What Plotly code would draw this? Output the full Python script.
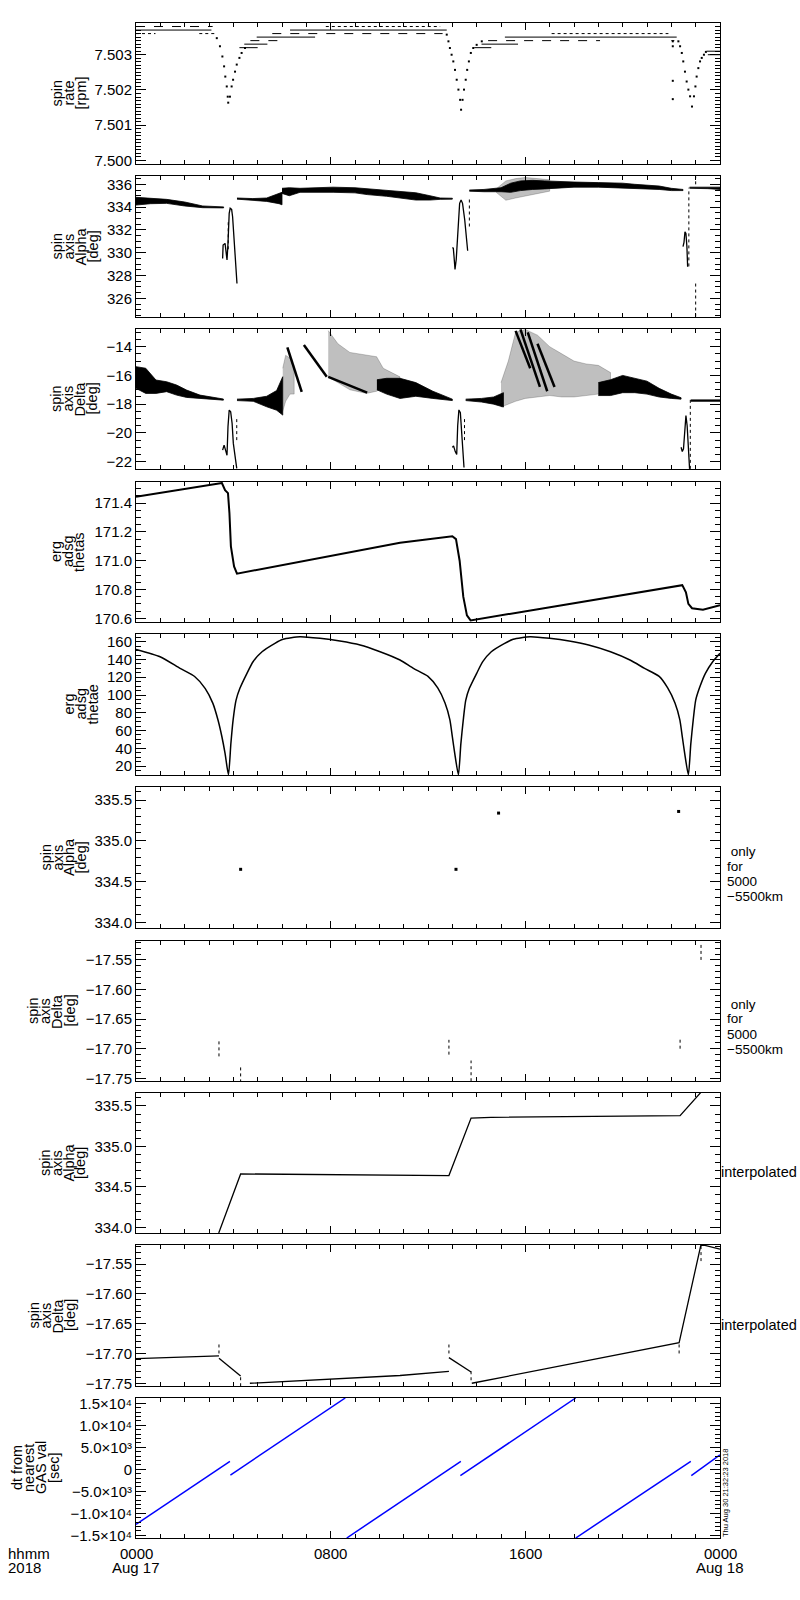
import plotly.graph_objects as go

# ===================== DATA (hours since 2018-08-17 00:00) =====================
# Panel 1: spin rate [rpm] - quantised plateau segments and dip points
rate_solid_lvl = [7.5037, 7.5032, 7.5033, 7.5035, 7.5037, 7.5032, 7.5033, 7.5035, 7.5031, 7.5030]
rate_solid_h0 = [0.0, 4.25, 4.45, 4.96, 6.33, 13.9, 14.2, 15.16, 23.45, 23.5]
rate_solid_h1 = [3.1, 5.0, 5.4, 7.36, 12.77, 14.6, 15.7, 22.22, 24.0, 24.0]
rate_dash_lvl = [7.5038, 7.5034, 7.5036, 7.5034]
rate_dash_h0 = [0.0, 4.7, 5.6, 14.47]
rate_dash_h1 = [3.15, 6.1, 12.6, 19.07]
rate_dot_lvl = [7.5036, 7.5036, 7.5038, 7.5036, 7.5034]
rate_dot_h0 = [0.0, 2.6, 7.8, 17.08, 22.0]
rate_dot_h1 = [0.8, 3.3, 12.5, 21.88, 22.25]
rate_dip_h = [3.32, 3.45, 3.55, 3.62, 3.67, 3.73, 3.77, 3.79, 3.86, 3.93, 3.99, 4.07, 4.14, 4.25, 4.34, 4.48,
              12.77, 12.84, 12.9, 12.97, 13.04, 13.11, 13.18, 13.25, 13.32, 13.36, 13.42, 13.48, 13.55, 13.61,
              13.68, 13.76, 13.86, 14.0, 14.21,
              22.29, 22.36, 22.43, 22.49, 22.56, 22.63, 22.7, 22.77, 22.85, 22.93, 22.99, 23.04, 23.11, 23.18,
              23.25, 23.34, 23.42, 22.06, 22.06, 22.06, 22.06]
rate_dip_v = [7.50347, 7.50324, 7.50295, 7.50267, 7.50238, 7.50210, 7.50181, 7.50164, 7.50181, 7.50210,
              7.50229, 7.50252, 7.50272, 7.50291, 7.50305, 7.50319,
              7.50357, 7.50338, 7.50319, 7.50300, 7.50281, 7.50257, 7.50229, 7.50201, 7.50172, 7.50144,
              7.50172, 7.50201, 7.50229, 7.50257, 7.50281, 7.50305, 7.50319, 7.50328, 7.50338,
              7.50338, 7.50324, 7.50305, 7.50281, 7.50252, 7.50224, 7.50201, 7.50182, 7.50153, 7.50182,
              7.50210, 7.50238, 7.50262, 7.50281, 7.50291, 7.50300, 7.50308,
              7.50338, 7.50324, 7.50226, 7.50174]
rate_ticks = [7.500, 7.501, 7.502, 7.503]

# Panel 2: spin axis Alpha [deg] - dense bands (upper/lower envelopes) and eclipse excursions
alpha_bands_h = [[0.0, 0.6, 1.26, 2.0, 2.74, 3.6],
                 [4.15, 4.8, 5.37, 5.88, 6.0],
                 [6.0, 6.3, 6.74, 7.5, 8.1, 9.0, 9.5, 10.3, 10.85, 11.5, 12.08, 12.5, 13.0],
                 [13.7, 14.3, 15.0, 15.4, 15.8, 16.3, 16.8, 17.3, 18.0, 19.0, 20.0, 20.5, 21.5, 22.0, 22.48],
                 [22.75, 23.5, 24.0]]
alpha_bands_hi = [[334.86, 334.75, 334.68, 334.45, 334.1, 334.02],
                  [334.8, 334.75, 334.8, 335.2, 335.3],
                  [335.65, 335.7, 335.65, 335.7, 335.75, 335.7, 335.6, 335.45, 335.35, 335.26, 335.0, 334.8, 334.78],
                  [335.5, 335.55, 335.7, 336.1, 336.3, 336.35, 336.3, 336.25, 336.2, 336.15, 336.1, 336.0, 335.85, 335.65, 335.55],
                  [335.75, 335.75, 335.75]]
alpha_bands_lo = [[334.18, 334.3, 334.33, 334.1, 333.95, 333.93],
                  [334.7, 334.62, 334.5, 334.3, 334.2],
                  [335.2, 335.0, 335.3, 335.3, 335.3, 335.25, 335.1, 334.95, 334.8, 334.62, 334.62, 334.68, 334.7],
                  [335.4, 335.35, 335.35, 335.3, 335.45, 335.55, 335.6, 335.7, 335.75, 335.75, 335.7, 335.65, 335.55, 335.45, 335.45],
                  [335.65, 335.62, 335.55]]
alpha_cloud_h = [14.8, 15.2, 15.6, 16.0, 16.5, 17.0]
alpha_cloud_hi = [335.6, 336.3, 336.5, 336.6, 336.5, 336.4]
alpha_cloud_lo = [335.3, 334.6, 334.8, 335.0, 335.2, 335.4]
alpha_dip_h = [[3.56, 3.58, 3.66, 3.74, 3.78, 3.83, 3.87, 3.93, 3.97, 4.03, 4.08, 4.15],
               [13.0, 13.04, 13.07, 13.11, 13.16, 13.3, 13.36, 13.42, 13.51, 13.57, 13.63],
               [22.48, 22.52, 22.56, 22.6, 22.64, 22.67]]
alpha_dip_v = [[329.5, 330.67, 330.82, 329.36, 330.8, 333.46, 333.9, 333.8, 333.16, 331.4, 329.36, 327.3],
               [330.44, 330.4, 329.65, 328.54, 329.4, 334.33, 334.62, 334.33, 332.87, 331.1, 330.17],
               [330.53, 330.9, 331.84, 331.7, 330.53, 328.77]]
alpha_vdot_h = [3.79, 13.7, 22.72, 23.0, 23.0]
alpha_vdot_v0 = [330.3, 332.3, 328.8, 324.4, 336.0]
alpha_vdot_v1 = [332.9, 334.9, 335.7, 327.3, 336.7]
alpha_ticks = [326, 328, 330, 332, 334, 336]

# Panel 3: spin axis Delta [deg]
delta_bands_h = [[0.0, 0.4, 0.82, 1.26, 1.67, 2.08, 2.63, 3.18, 3.59],
                 [4.15, 4.82, 5.37, 5.78, 6.03],
                 [9.9, 10.3, 10.85, 11.5, 12.2, 12.8, 13.0],
                 [13.55, 14.2, 14.7, 15.1],
                 [19.0, 19.5, 20.0, 20.5, 21.0, 21.5, 22.0, 22.4],
                 [22.8, 24.0]]
delta_bands_hi = [[-15.39, -15.5, -16.32, -16.44, -16.67, -17.02, -17.37, -17.53, -17.64],
                  [-17.65, -17.6, -17.45, -17.05, -16.09],
                  [-16.3, -16.2, -16.2, -16.5, -17.1, -17.55, -17.65],
                  [-17.65, -17.6, -17.5, -17.2],
                  [-16.5, -16.3, -16.0, -16.2, -16.4, -16.9, -17.3, -17.55],
                  [-17.7, -17.7]]
delta_bands_lo = [[-16.9, -17.25, -17.25, -17.13, -17.37, -17.53, -17.6, -17.67, -17.72],
                  [-17.75, -17.8, -18.18, -18.42, -18.76],
                  [-17.0, -17.3, -17.6, -17.45, -17.6, -17.7, -17.75],
                  [-17.75, -17.85, -18.0, -18.2],
                  [-17.4, -17.4, -17.2, -17.2, -17.3, -17.5, -17.6, -17.65],
                  [-17.8, -17.8]]
delta_cloud_h = [[6.03, 6.15, 6.33, 6.5],
                 [7.9, 8.3, 8.79, 9.47, 9.89, 10.16, 10.85],
                 [15.0, 15.3, 15.6, 16.0, 16.5, 17.0, 17.5, 18.0, 18.5, 19.0, 19.5]]
delta_cloud_hi = [[-15.5, -14.6, -14.8, -15.5],
                  [-12.88, -13.8, -14.4, -14.6, -14.7, -15.5, -16.1],
                  [-16.5, -15.0, -13.0, -12.8, -13.2, -14.0, -14.5, -15.0, -15.2, -15.3, -15.8]]
delta_cloud_lo = [[-18.5, -17.8, -17.3, -17.3],
                  [-16.1, -16.5, -17.0, -17.25, -17.1, -16.8, -17.3],
                  [-18.2, -18.0, -17.8, -17.6, -17.5, -17.4, -17.5, -17.5, -17.4, -17.3, -17.2]]
delta_streak_h = [[6.22, 6.81], [6.9, 7.84], [7.9, 9.5], [15.6, 16.2], [15.8, 16.6], [16.1, 16.9], [16.5, 17.2]]
delta_streak_v = [[-14.05, -17.14], [-13.88, -16.09], [-16.1, -17.2], [-12.9, -15.5], [-12.8, -16.8], [-13.0, -17.1], [-13.8, -16.8]]
delta_dip_h = [[3.56, 3.62, 3.68, 3.74, 3.78, 3.83, 3.89, 3.95, 4.0, 4.07, 4.14],
               [13.0, 13.05, 13.12, 13.18, 13.22, 13.27, 13.33, 13.38, 13.43, 13.48],
               [22.4, 22.45, 22.5, 22.55, 22.6, 22.65, 22.7, 22.75]]
delta_dip_v = [[-21.2, -20.85, -21.2, -21.55, -19.58, -18.41, -18.53, -19.34, -20.73, -21.67, -22.47],
               [-21.0, -20.9, -21.3, -21.5, -19.5, -18.4, -18.6, -20.0, -21.5, -22.4],
               [-21.0, -21.3, -21.1, -19.5, -18.8, -19.5, -21.0, -22.5]]
delta_vdot_h = [4.14, 13.5, 22.78]
delta_vdot_v0 = [-20.5, -20.5, -22.5]
delta_vdot_v1 = [-18.9, -18.9, -17.7]
delta_ticks = [-22, -20, -18, -16, -14]

# Panel 4: erg adsg thetas
thetas_h = [0.0, 3.53, 3.66, 3.78, 3.84, 3.9, 4.03, 4.15, 10.85, 13.0, 13.15, 13.3, 13.45, 13.6, 13.75,
            22.45, 22.6, 22.7, 22.85, 23.3, 24.0]
thetas_v = [171.445, 171.54, 171.49, 171.47, 171.33, 171.1, 170.96, 170.91, 171.124, 171.17, 171.15, 171.0,
            170.75, 170.62, 170.585, 170.83, 170.78, 170.7, 170.67, 170.66, 170.69]
thetas_ticks = [170.6, 170.8, 171.0, 171.2, 171.4]

# Panel 5: erg adsg thetae
thetae_h = [0.0, 0.99, 1.81, 2.42, 2.84, 3.16, 3.37, 3.53, 3.66, 3.8, 3.9, 3.99, 4.11, 4.27, 4.56, 4.81,
            5.18, 5.71, 6.04, 6.74, 7.56, 8.38, 9.21, 10.03, 10.85, 11.4, 12.0, 12.4, 12.7, 12.9, 13.0,
            13.1, 13.25, 13.35, 13.45, 13.55, 13.7, 14.0, 14.25, 14.6, 15.15, 15.5, 16.2, 17.0, 17.8,
            18.6, 19.5, 20.3, 20.9, 21.5, 21.85, 22.15, 22.35, 22.45, 22.55, 22.7, 22.8, 22.9, 23.0,
            23.15, 23.4, 23.7, 24.0]
thetae_v = [151.4, 143.1, 130.0, 120.6, 107.5, 90.6, 71.8, 53.0, 34.3, 10.0, 45.6, 71.8, 94.0, 107.5, 124.4,
            137.5, 148.7, 158.2, 162.7, 165.6, 163.8, 160.8, 156.3, 148.7, 139.4, 130.0, 121.0, 108.0,
            91.0, 72.0, 53.0, 34.0, 10.0, 45.0, 72.0, 94.0, 107.5, 124.4, 137.5, 148.7, 158.2, 162.7,
            165.6, 163.8, 160.8, 156.3, 148.7, 139.4, 130.0, 121.0, 108.0, 91.0, 72.0, 53.0, 34.0, 10.0,
            45.0, 72.0, 94.0, 107.5, 124.4, 137.5, 147.0]
thetae_ticks = [20, 40, 60, 80, 100, 120, 140, 160]

# Panel 6: spin axis Alpha, only for 5000-5500 km
alpha_km_h = [4.3, 13.15, 14.9, 22.3]
alpha_km_v = [334.65, 334.65, 335.34, 335.36]
alpha2_ticks = [334.0, 334.5, 335.0, 335.5]

# Panel 7: spin axis Delta, only for 5000-5500 km (short vertical dotted groups)
delta_km_h = [3.41, 4.3, 12.86, 13.77, 22.36, 23.22]
delta_km_v0 = [-17.713, -17.757, -17.71, -17.755, -17.70, -17.55]
delta_km_v1 = [-17.685, -17.73, -17.685, -17.72, -17.68, -17.52]
delta2_ticks = [-17.75, -17.70, -17.65, -17.60, -17.55]

# Panel 8: interpolated Alpha
alpha_int_h = [3.4, 4.3, 12.86, 13.77, 14.59, 17.42, 20.26, 22.36, 23.22]
alpha_int_v = [333.93, 334.66, 334.64, 335.35, 335.36, 335.37, 335.38, 335.38, 335.67]

# Panel 9: interpolated Delta (None = gap)
delta_int_h = [0.0, 3.41, None, 3.41, 4.3, None, 4.68, 10.85, 12.86, None, 12.86, 13.77, None,
               13.8, 22.32, 23.22, 24.0]
delta_int_v = [-17.7085, -17.704, None, -17.708, -17.738, None, -17.75, -17.737, -17.73, None,
               -17.707, -17.731, None, -17.75, -17.682, -17.517, -17.525]
delta_int_dot_h = [3.41, 4.3, 12.86, 13.77, 22.32, 23.22]
delta_int_dot_v0 = [-17.70, -17.755, -17.70, -17.745, -17.70, -17.545]
delta_int_dot_v1 = [-17.68, -17.735, -17.685, -17.728, -17.68, -17.517]

# Panel 10: dt from nearest GAS val [sec]
dt_seg_h0 = [0.0, 3.88, 8.66, 13.33, 18.07, 22.82]
dt_seg_h1 = [3.86, 8.6, 13.35, 18.07, 22.8, 24.0]
dt_seg_v0 = [-12500, -1300, -15600, -1450, -15600, -1450]
dt_seg_v1 = [1800, 16200, 1800, 16200, 1800, 3300]
dt_ticks = [-15000, -10000, -5000, 0, 5000, 10000, 15000]
dt_ticktext = ["\u22121.5\u00d710\u2074", "\u22121.0\u00d710\u2074", "\u22125.0\u00d710\u00b3",
               "0", "5.0\u00d710\u00b3", "1.0\u00d710\u2074", "1.5\u00d710\u2074"]

x_ticks = [0, 8, 16, 24]
x_labels = ["0000", "0800", "1600", "0000"]
x_dates = ["Aug 17", "", "", "Aug 18"]

# ===================== LAYOUT GEOMETRY =====================
FONT = "Arial, Liberation Sans, Helvetica, sans-serif"
TOP = [23, 176, 329, 482, 634, 787, 941, 1093, 1245, 1398]
BOT = [164, 317, 469, 622, 775, 928, 1081, 1233, 1386, 1538]
L, R, PT, PB = 136, 720, 23, 1538


def dom(i):
    return [(PB - BOT[i]) / (PB - PT), (PB - TOP[i]) / (PB - PT)]


def px(x):
    return (x - L) / (R - L)


def py(y):
    return (PB - y) / (PB - PT)


def ax(i):
    return ("x" if i == 0 else f"x{i+1}"), ("y" if i == 0 else f"y{i+1}")


fig = go.Figure()


def add(i, **kw):
    xa, ya = ax(i)
    fig.add_trace(go.Scatter(xaxis=xa, yaxis=ya, showlegend=False, hoverinfo="skip", **kw))


def segs(h0, h1, v0, v1):
    xs, ys = [], []
    for a, b, c, d in zip(h0, h1, v0, v1):
        xs += [a, b, None]
        ys += [c, d, None]
    return xs, ys


def band(i, h, hi, lo, color):
    add(i, x=list(h) + list(h)[::-1], y=list(hi) + list(lo)[::-1], mode="lines", fill="toself",
        fillcolor=color, line=dict(color=color, width=0.8))


CLOUD = "rgba(0,0,0,0.25)"
# Panel 1
for lv, h0, h1, dash in [(rate_solid_lvl, rate_solid_h0, rate_solid_h1, "solid"),
                         (rate_dash_lvl, rate_dash_h0, rate_dash_h1, "dash"),
                         (rate_dot_lvl, rate_dot_h0, rate_dot_h1, "dot")]:
    xs, ys = segs(h0, h1, lv, lv)
    add(0, x=xs, y=ys, mode="lines", line=dict(color="black", width=1, dash=dash))
add(0, x=rate_dip_h, y=rate_dip_v, mode="markers", marker=dict(color="black", size=2, symbol="square"))

# Panel 2
band(1, alpha_cloud_h, alpha_cloud_hi, alpha_cloud_lo, CLOUD)
for h, hi, lo in zip(alpha_bands_h, alpha_bands_hi, alpha_bands_lo):
    band(1, h, hi, lo, "black")
for h, v in zip(alpha_dip_h, alpha_dip_v):
    add(1, x=h, y=v, mode="lines", line=dict(color="black", width=1.3))
xs, ys = segs(alpha_vdot_h, alpha_vdot_h, alpha_vdot_v0, alpha_vdot_v1)
add(1, x=xs, y=ys, mode="lines", line=dict(color="black", width=1, dash="dot"))

# Panel 3
for h, hi, lo in zip(delta_cloud_h, delta_cloud_hi, delta_cloud_lo):
    band(2, h, hi, lo, CLOUD)
for h, hi, lo in zip(delta_bands_h, delta_bands_hi, delta_bands_lo):
    band(2, h, hi, lo, "black")
for h, v in zip(delta_streak_h, delta_streak_v):
    add(2, x=h, y=v, mode="lines", line=dict(color="black", width=2.5))
for h, v in zip(delta_dip_h, delta_dip_v):
    add(2, x=h, y=v, mode="lines", line=dict(color="black", width=1.3))
xs, ys = segs(delta_vdot_h, delta_vdot_h, delta_vdot_v0, delta_vdot_v1)
add(2, x=xs, y=ys, mode="lines", line=dict(color="black", width=1, dash="dot"))

# Panel 4
add(3, x=thetas_h, y=thetas_v, mode="lines", line=dict(color="black", width=2))
# Panel 5
add(4, x=thetae_h, y=thetae_v, mode="lines", line=dict(color="black", width=1.5, shape="spline", smoothing=0.6))
# Panel 6
add(5, x=alpha_km_h, y=alpha_km_v, mode="markers", marker=dict(color="black", size=3, symbol="square"))
# Panel 7
xs, ys = segs(delta_km_h, delta_km_h, delta_km_v0, delta_km_v1)
add(6, x=xs, y=ys, mode="lines", line=dict(color="black", width=1, dash="dot"))
# Panel 8
add(7, x=alpha_int_h, y=alpha_int_v, mode="lines", line=dict(color="black", width=1.3))
# Panel 9
add(8, x=delta_int_h, y=delta_int_v, mode="lines", line=dict(color="black", width=1.3))
xs, ys = segs(delta_int_dot_h, delta_int_dot_h, delta_int_dot_v0, delta_int_dot_v1)
add(8, x=xs, y=ys, mode="lines", line=dict(color="black", width=1, dash="dot"))
# Panel 10
xs, ys = segs(dt_seg_h0, dt_seg_h1, dt_seg_v0, dt_seg_v1)
add(9, x=xs, y=ys, mode="lines", line=dict(color="blue", width=1.5))

# ===================== AXES =====================
ycfg = [
    dict(range=[7.4999, 7.5039], tv=rate_ticks, tt=[f"{v:.3f}" for v in rate_ticks], md=0.0001),
    dict(range=[324.36, 336.73], tv=alpha_ticks, tt=[str(v) for v in alpha_ticks], md=0.5),
    dict(range=[-22.51, -12.77], tv=delta_ticks, tt=[str(v).replace("-", "\u2212") for v in delta_ticks], md=0.5),
    dict(range=[170.574, 171.547], tv=thetas_ticks, tt=[f"{v:.1f}" for v in thetas_ticks], md=0.05),
    dict(range=[9.9, 168.7], tv=thetae_ticks, tt=[str(v) for v in thetae_ticks], md=5),
    dict(range=[333.93, 335.66], tv=alpha2_ticks, tt=[f"{v:.1f}" for v in alpha2_ticks], md=0.1),
    dict(range=[-17.7546, -17.518], tv=delta2_ticks, tt=[f"{v:.2f}".replace("-", "\u2212") for v in delta2_ticks], md=0.01),
    dict(range=[333.93, 335.66], tv=alpha2_ticks, tt=[f"{v:.1f}" for v in alpha2_ticks], md=0.1),
    dict(range=[-17.7546, -17.518], tv=delta2_ticks, tt=[f"{v:.2f}".replace("-", "\u2212") for v in delta2_ticks], md=0.01),
    dict(range=[-15600, 16200], tv=dt_ticks, tt=dt_ticktext, md=1000),
]

layout = dict(width=800, height=1600, margin=dict(l=L, r=800 - R, t=PT, b=1600 - PB),
              plot_bgcolor="white", paper_bgcolor="white", showlegend=False,
              font=dict(family=FONT, color="black", size=15))
for i in range(10):
    xa, ya = ax(i)
    xn = "xaxis" + ("" if i == 0 else str(i + 1))
    yn = "yaxis" + ("" if i == 0 else str(i + 1))
    layout[xn] = dict(domain=[0, 1], anchor=ya, range=[0, 24], tickmode="array", tickvals=x_ticks,
                      showticklabels=False, ticks="inside", ticklen=7, tickcolor="black", tickwidth=1,
                      showline=True, linecolor="black", linewidth=1, mirror="ticks", showgrid=False,
                      zeroline=False,
                      minor=dict(tickmode="linear", tick0=0, dtick=1, ticks="inside", ticklen=4,
                                 tickcolor="black", showgrid=False))
    c = ycfg[i]
    layout[yn] = dict(domain=dom(i), anchor=xa, range=c["range"], tickmode="array", tickvals=c["tv"],
                      ticktext=c["tt"], ticks="inside", ticklen=10, tickcolor="black", tickwidth=1,
                      showline=True, linecolor="black", linewidth=1, mirror="ticks", showgrid=False,
                      zeroline=False, tickfont=dict(size=15, color="black", family=FONT),
                      minor=dict(tickmode="linear", tick0=0, dtick=c["md"], ticks="inside", ticklen=5,
                                 tickcolor="black", showgrid=False))
fig.update_layout(**layout)

# ===================== TEXT =====================
ann = []


def text(x, y, s, size=15, xanchor="center", angle=0):
    ann.append(dict(xref="paper", yref="paper", x=px(x), y=py(y), text=s, showarrow=False,
                    xanchor=xanchor, yanchor="middle", textangle=angle, borderpad=0,
                    font=dict(family=FONT, size=size, color="black")))


ytitles = [
    (["spin", "rate", "[rpm]"], [56, 68, 80]),
    (["spin", "axis", "Alpha", "[deg]"], [56, 68, 80, 92]),
    (["spin", "axis", "Delta", "[deg]"], [56, 67.5, 79.5, 91.5]),
    (["erg", "adsg", "thetas"], [56, 68, 79]),
    (["erg", "adsg", "thetae"], [68, 80, 92]),
    (["spin", "axis", "Alpha", "[deg]"], [45, 57, 68.5, 80]),
    (["spin", "axis", "Delta", "[deg]"], [33, 45, 57, 69.5]),
    (["spin", "axis", "Alpha", "[deg]"], [45, 57, 68.5, 80]),
    (["spin", "axis", "Delta", "[deg]"], [33, 45, 57, 69.5]),
    (["dt from", "nearest", "GAS val", "[sec]"], [17, 29, 41, 54]),
]
for i, (lines, xs_) in enumerate(ytitles):
    yc = (TOP[i] + BOT[i]) / 2
    for s, xx in zip(lines, xs_):
        text(xx, yc, s, size=14.5, angle=-90)

for ys_ in ([851, 866, 881, 896], [1004, 1019, 1034, 1049]):
    for s, yy in zip([" only", "for", "5000", "\u22125500km"], ys_):
        text(726, yy, s, size=13.5, xanchor="left")
text(720, 1171.5, "interpolated", size=14.5, xanchor="left")
text(720, 1324.5, "interpolated", size=14.5, xanchor="left")

for t, lab, d in zip(x_ticks, x_labels, x_dates):
    xx = L + t * (R - L) / 24
    text(xx, 1553.5, lab)
    if d:
        text(xx, 1567, d)
text(7, 1553.5, "hhmm", xanchor="left")
text(7, 1567, "2018", xanchor="left")
text(725, 1493, "Thu Aug 30 21:32:23 2018", size=7.5, angle=-90)

fig.update_layout(annotations=ann)
fig.write_html("out.html", config={"displayModeBar": False},
               post_script="document.body.style.margin='0';document.body.style.padding='0';"
                           "document.body.style.overflow='hidden';")
